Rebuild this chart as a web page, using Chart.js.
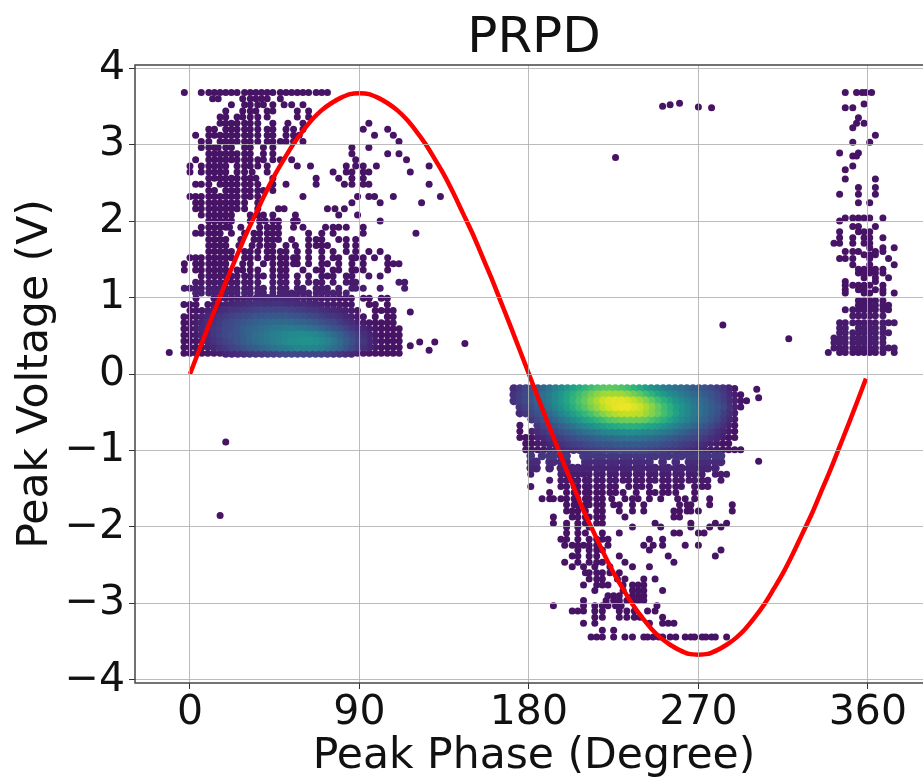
<!DOCTYPE html>
<html>
<head>
<meta charset="utf-8">
<title>PRPD</title>
<script src="https://cdn.jsdelivr.net/npm/chart.js@4"></script>
<style>
  html, body { margin: 0; padding: 0; background: #fff; overflow: hidden; }
  #wrap { width: 923px; height: 782px; overflow: hidden; }
</style>
</head>
<body>
<div id="wrap"><canvas id="prpdChart" width="950" height="782"></canvas></div>
<script>
const xTicks = [0, 90, 180, 270, 360];
const yTicks = [-4, -3, -2, -1, 0, 1, 2, 3, 4];

// reference sine
const sinePhase = [0,5,10,15,20,25,30,35,40,45,50,55,60,65,70,75,80,85,90,95,100,105,110,115,120,125,130,135,140,145,150,155,160,165,170,175,180,185,190,195,200,205,210,215,220,225,230,235,240,245,250,255,260,265,270,275,280,285,290,295,300,305,310,315,320,325,330,335,340,345,350,355,359];
const sineVolt = [0,0.32,0.64,0.95,1.26,1.55,1.84,2.10,2.36,2.60,2.81,3.01,3.18,3.33,3.45,3.54,3.61,3.66,3.67,3.66,3.61,3.54,3.45,3.33,3.18,3.01,2.81,2.60,2.36,2.10,1.84,1.55,1.26,0.95,0.64,0.32,0,-0.32,-0.64,-0.95,-1.26,-1.55,-1.84,-2.10,-2.36,-2.60,-2.81,-3.01,-3.18,-3.33,-3.45,-3.54,-3.61,-3.66,-3.67,-3.66,-3.61,-3.54,-3.45,-3.33,-3.18,-3.01,-2.81,-2.60,-2.36,-2.10,-1.84,-1.55,-1.26,-0.95,-0.64,-0.32,-0.06];

// positive half cycle, dense core. shade = position on viridis x100, 0 = no point
const posPhases = [-3.2,0,3.2,6.3,9.5,12.7,15.9,19,22.2,25.4,28.6,31.7,34.9,38.1,41.3,44.4,47.6,50.8,54,57.1,60.3,63.5,66.7,69.8,73,76.2,79.4,82.5,85.7,88.9,92.1,95.2,98.4,101.6,104.8,107.9,111.1];
const posVolts = [0.99,0.91,0.83,0.75,0.67,0.59,0.51,0.43,0.35,0.27];
const posShades = [
  [0,0,5,0,0,5,6,7,7,8,8,9,9,10,10,10,10,10,10,9,9,8,8,7,7,7,6,6,6,0,5,5,0,5,5,0,0],
  [5,5,6,0,6,7,8,9,10,11,12,13,14,14,14,14,14,13,13,12,12,11,10,9,8,7,7,6,6,0,0,5,5,0,5,0,0],
  [0,5,6,7,9,10,12,13,15,16,17,18,19,20,20,20,20,20,19,18,17,16,15,13,12,11,10,9,8,6,0,0,5,5,5,5,0],
  [5,5,7,9,11,13,15,17,19,20,22,23,25,26,27,27,27,27,26,25,24,22,20,18,16,15,13,11,9,7,6,0,5,0,5,5,0],
  [5,6,8,10,13,15,17,20,22,24,26,28,30,32,33,34,34,34,33,32,31,29,27,24,22,20,17,14,12,9,7,6,5,5,5,5,0],
  [5,6,8,11,13,16,18,21,23,26,29,31,33,35,37,39,40,41,41,40,39,37,35,32,29,26,23,19,16,13,10,8,6,5,5,5,5],
  [5,5,7,10,12,15,18,21,24,26,29,32,35,37,40,42,44,46,47,48,48,47,45,42,38,34,30,25,21,17,13,10,7,5,5,5,5],
  [5,5,6,8,11,14,17,19,22,25,28,31,34,37,39,42,44,47,49,50,51,51,50,47,44,39,34,29,24,19,15,11,8,6,5,5,5],
  [5,5,5,7,9,11,14,16,19,21,24,27,29,32,34,37,39,41,43,45,45,45,44,42,39,35,31,26,21,17,13,10,7,5,5,5,5],
  [5,5,5,5,6,7,8,10,11,12,14,15,16,17,18,19,20,21,22,22,22,22,22,20,19,17,15,13,11,9,7,6,5,5,5,5,5]
];

// negative half cycle, dense core
const negPhases = [172,175.2,178.3,181.5,184.7,187.9,191,194.2,197.4,200.5,203.7,206.9,210,213.2,216.4,219.6,222.7,225.9,229.1,232.2,235.4,238.6,241.7,244.9,248.1,251.3,254.4,257.6,260.8,263.9,267.1,270.3,273.4,276.6,279.8,283,286.1,289.3,292.5,295.6];
const negVolts = [-0.19,-0.27,-0.35,-0.43,-0.51,-0.59,-0.67,-0.75,-0.83,-0.91,-0.99];
const negShades = [
  [12,16,20,24,28,32,37,42,47,52,57,61,65,69,72,74,75,74,72,69,65,61,56,51,47,43,40,37,35,32,29,27,24,21,18,14,10,6,0,0],
  [14,18,22,26,31,36,41,47,52,58,63,68,73,78,82,85,86,86,85,82,78,74,69,64,58,53,48,44,41,37,34,31,28,25,21,17,12,8,5,0],
  [14,18,22,26,31,36,41,47,53,59,65,71,76,82,87,92,95,96,96,94,90,86,81,75,69,63,57,51,47,42,38,35,31,27,23,18,13,9,6,5],
  [0,15,19,23,28,33,38,44,50,56,62,68,73,79,84,89,93,96,97,97,95,92,87,82,76,69,63,56,51,46,41,37,33,29,25,20,14,9,6,0],
  [0,12,16,20,24,28,33,38,44,50,55,61,66,71,76,81,85,88,90,91,90,89,85,81,76,70,64,57,51,46,41,37,33,28,24,18,13,8,0,0],
  [0,0,0,16,20,24,28,32,37,42,47,52,57,61,65,69,73,75,77,78,78,77,75,71,67,63,58,52,47,42,38,34,30,25,21,16,11,7,0,0],
  [0,6,0,0,15,19,23,26,30,34,38,42,46,50,53,56,59,61,62,63,63,62,60,58,55,51,47,43,39,36,32,28,25,21,17,13,9,5,0,0],
  [0,5,0,9,12,15,18,21,24,27,30,33,36,39,41,44,46,47,48,49,49,48,46,45,43,40,37,34,31,28,25,23,20,17,13,10,7,5,0,0],
  [0,5,5,6,9,11,14,16,18,21,23,25,27,29,31,33,34,35,36,37,37,36,35,34,32,30,28,26,24,22,20,18,16,13,11,8,5,5,0,0],
  [0,0,5,5,7,8,10,12,14,16,18,19,21,23,24,25,26,27,28,28,28,28,27,26,25,23,22,20,18,17,15,13,11,9,8,5,5,0,0,0],
  [0,0,5,5,6,6,8,9,10,12,13,14,16,17,18,19,20,20,21,21,21,21,20,19,18,17,16,15,14,12,11,10,9,7,6,5,5,5,5,0]
];

// upper scatter above the positive core
const upperVolts = [3.68,3.6,3.52,3.44,3.36,3.28,3.2,3.12,3.04,2.96,2.88,2.8,2.72,2.64,2.56,2.48,2.4,2.32,2.24,2.16,2.08,2,1.92,1.84,1.76,1.68,1.6,1.52,1.44,1.36,1.28,1.2,1.12,1.06];
const upperShades = [5,5,5,5,5,5,5,5,5,5,5,5,5,5,5,5,5,5,5,5,5,5,5,5,5,5,5,5,5,5,6,7,8,9];
const upperPhases = [
  [-3,6,10,13,16,19,22,25,29,32,35,38,41,44,48,51,54,57,60,63,67,70,73],
  [12,15,28,32,35,38,41,48],
  [22,29,32,36,39,44,50,54,60],
  [19,28,32,35,41,44,57,63],
  [16,19,25,28,32,36,41,57,63],
  [16,19,22,25,29,32,36,44,52,60,95],
  [10,13,19,22,25,29,32,36,41,44,51,55,60,92,105],
  [3,10,13,16,19,22,25,29,32,36,41,44,51,55,58,98,108],
  [6,10,16,19,22,25,29,32,36,41,44,48,51,55,60,111],
  [6,10,13,15,19,22,29,32,39,44,86,95],
  [10,13,16,19,22,25,29,32,39,44,86,105,111],
  [3,10,13,16,19,22,25,29,32,36,39,44,48,54,88,115],
  [0,6,10,13,16,19,25,29,32,36,41,57,64,83,88,92,99,127],
  [0,6,10,13,16,19,25,29,33,41,76,83,86,92,95,117],
  [10,13,16,19,22,25,29,32,35,44,67,79,86,92],
  [3,6,10,16,19,22,25,29,32,36,44,51,67,82,86,92,95,127],
  [10,13,19,22,25,29,32,36,39,44],
  [0,3,6,10,13,16,19,22,25,29,32,36,60,89,95,98,108,133],
  [3,6,10,13,16,19,22,25,29,36,86,101,123],
  [3,6,10,13,16,19,22,25,29,36,47,50,73,77,82],
  [6,10,13,16,19,22,32,36,39,44,56,79,89],
  [10,13,16,19,22,32,37,40,44,47,55,57,101],
  [6,10,13,16,19,21,27,37,41,44,47,55,60,72,76,79,83,92],
  [3,6,10,13,16,22,29,34,37,41,44,47,63,70,76,92,120],
  [10,13,16,19,27,34,37,41,44,47,54,63,67,70,79,83,88],
  [10,13,16,19,26,33,37,41,44,51,56,63,67,70,73,83,88],
  [10,13,16,19,22,29,32,36,41,44,48,51,57,63,70,76,83,88,95,101],
  [0,3,6,10,13,16,19,22,29,32,36,41,44,48,51,55,57,63,70,76,79,86,88,92,98,105],
  [-3,3,6,10,13,16,19,28,32,39,44,48,51,55,57,63,70,73,79,86,92,105,108,111],
  [-3,3,6,10,13,16,19,25,28,32,36,44,48,51,60,67,70,76,79,86,88,92,105],
  [6,10,13,16,19,22,25,29,32,36,39,44,48,51,57,63,70,73,76,83,86,95,101],
  [3,6,10,13,16,19,22,25,29,32,36,44,48,51,57,63,67,70,76,83,86,88,111,114],
  [-3,0,3,6,10,13,16,19,22,25,29,32,36,39,44,48,51,57,60,67,70,73,79,86,88,92,101,114],
  [3,6,10,13,16,19,22,25,29,32,36,39,44,48,51,54,57,60,63,67,70,73,76,79,83]
];

// lower scatter below the negative core
const lowerVolts = [-1.07,-1.15,-1.23,-1.31,-1.39,-1.47,-1.55,-1.63,-1.71,-1.79,-1.87,-1.95,-2,-2.08,-2.16,-2.24,-2.3,-2.38,-2.46,-2.52,-2.6,-2.68,-2.76,-2.83,-2.9,-2.96,-3.03,-3.1,-3.18,-3.26,-3.35,-3.44];
const lowerShades = [16,12,10,8,7,6,5,5,5,5,5,5,5,5,5,5,5,5,5,5,5,5,5,5,5,5,5,5,5,5,5,5];
const lowerPhases = [
  [181,187,191,193,197,200,209,212,216,219,223,226,230,233,237,240,244,247,251,254,258,261,265,268,272,275,279,282],
  [181,184,191,193,197,200,210,212,216,219,223,226,230,233,237,240,244,251,258,265,268,272,275,279,282],
  [181,184,191,197,200,203,206,209,212,216,219,223,226,230,233,237,240,244,247,251,254,258,261,265,268,272,275,279],
  [181,197,200,203,206,209,212,216,219,223,226,230,233,237,240,244,247,251,254,258,261,265,268,272,279,282,285],
  [191,197,200,203,206,210,212,216,219,223,226,230,233,237,240,244,247,251,254,258,261,265,268,272,275,282],
  [181,197,200,204,206,210,212,216,219,223,226,233,237,240,244,251,254,258,261,268,272,275],
  [191,200,204,206,210,212,216,219,223,226,230,237,244,247,251,254,258,268],
  [187,191,193,197,200,204,206,210,212,216,219,224,231,235,238,244,250,259,263,268,276],
  [200,204,206,210,212,216,219,225,228,235,241,260,264,266,276,288],
  [200,203,206,210,216,219,228,235,241,257,260,264,266,270,288],
  [193,203,206,210,212,216,219,231,257,260],
  [193,200,206,210,216,219,247,266,279,285],
  [200,206,212,235,250,266,276,282],
  [200,206,210,219,228,257,260,270,273],
  [197,200,206,212,216,219,222,244,251],
  [199,203,206,209,212,216,222,241,246,251,263,270],
  [206,212,216,219,244,282],
  [203,206,212,216,228,254,279],
  [199,206,212,216,219,231,257],
  [209,215,223,235,244,203],
  [210,212,216,219,223,228],
  [212,216,219,227,231,247,241],
  [209,216,219,222,230,235,238,241],
  [215,230,235,238,241,251],
  [222,225,228,235,238,241],
  [209,221,225,228,232,235,238,241],
  [193,209,215,219,222,226,229,248],
  [203,206,209,215,219,228,232,236,243,247],
  [215,219,228,232,236,239,251],
  [209,215,244,251,254,257],
  [219,225],
  [213,216,219,225,231,235,241,243,246,249,251,255,258,263,266,268,272,274,277,279,285]
];

// cluster around 360 degrees
const rightVolts = [3.68,3.53,3.48,3.35,3.28,3.22,3.12,3.03,2.89,2.85,2.72,2.67,2.55,2.44,2.35,2.24,2.04,2,1.93,1.86,1.78,1.71,1.65,1.6,1.56,1.51,1.43,1.37,1.32,1.26,1.21,1.16,1.1,1.06,0.96,0.9,0.84,0.76,0.67,0.6,0.54,0.47,0.41,0.34,0.28];
const rightShades = [5,5,5,5,5,5,5,5,5,5,5,5,5,5,5,5,5,5,5,5,5,5,5,5,5,5,5,5,5,5,5,5,5,5,6,6,6,7,7,8,8,8,8,7,6];
const rightPhases = [
  [348,354,357,359,362],
  [358],
  [348,352],
  [355],
  [354,358],
  [352],
  [364],
  [352,361],
  [345,355],
  [352,354],
  [352],
  [348],
  [348,364],
  [355,364],
  [345,355,364],
  [355,361],
  [348,352,355,358,361,368],
  [345],
  [352,355,364],
  [345,355,358,361],
  [345,352,358,361,368],
  [342,345,352,358,361],
  [361,368,374],
  [348,352,355,364,368],
  [358,361,364],
  [345,348,352,361,371],
  [352,361,374],
  [355,358,361,364,368],
  [355,358,361,364,368],
  [358,364,371],
  [348,364],
  [348,352,355,358,361,368],
  [348,355,358,364,368],
  [348,358,361,368,374],
  [355,358,361,364,368],
  [355,358,361,364,368,371],
  [348,352,355,358,361,364,368,371],
  [352,355,358,361,364,368],
  [345,348,352,355,358,361,364,368,371,374],
  [345,348,355,358,361,364,368],
  [345,348,352,355,358,361,364,368,371],
  [342,345,348,352,355,358,361,364,368],
  [342,345,348,352,355,358,361,364,368],
  [342,345,348,352,355,358,361,364,368,371,374],
  [339,345,348,352,355,358,361,364,368,374]
];

// lone points
const strayPhase = [-11,117,117,122,130,127,146,19,16,226,251,255,260,270,277,283,318,301,302,302];
const strayVolt = [0.28,0.81,0.37,0.42,0.42,0.31,0.4,-0.89,-1.85,2.83,3.5,3.52,3.54,3.49,3.48,0.64,0.46,-0.2,-0.31,-1.14];

const viridis = ["#440154","#482475","#414487","#355f8d","#2a788e","#21908d","#22a884","#42be71","#7ad151","#bddf26","#fde725"];

function colorViridis(shade) {
  const pos = Math.min(shade, 99.9) / 10;
  const i = Math.floor(pos);
  const t = pos - i;
  const a = parseInt(viridis[i].slice(1), 16);
  const b = parseInt(viridis[i + 1].slice(1), 16);
  const mix = (shift) => Math.round(((a >> shift) & 255) * (1 - t) + ((b >> shift) & 255) * t);
  return "rgb(" + mix(16) + "," + mix(8) + "," + mix(0) + ")";
}

function buildPoints() {
  const points = [];
  const addRows = (volts, rows, shades) => {
    rows.forEach((row, r) => {
      row.forEach((phase) => {
        points.push({ x: phase, y: volts[r], shade: shades[r] });
      });
    });
  };
  const addGrid = (phases, volts, shades) => {
    shades.forEach((row, r) => {
      row.forEach((shade, c) => {
        if (shade > 0) points.push({ x: phases[c], y: volts[r], shade: shade });
      });
    });
  };
  addRows(upperVolts, upperPhases, upperShades);
  addRows(lowerVolts, lowerPhases, lowerShades);
  addRows(rightVolts, rightPhases, rightShades);
  strayPhase.forEach((phase, i) => points.push({ x: phase, y: strayVolt[i], shade: 5 }));
  addGrid(posPhases, posVolts, posShades);
  addGrid(negPhases, negVolts, negShades);
  // brightest drawn last, like a sorted density scatter
  points.sort((a, b) => a.shade - b.shade);
  return points;
}

const framePlugin = {
  id: "frame",
  afterDraw(chart) {
    const { ctx, chartArea } = chart;
    ctx.save();
    ctx.strokeStyle = "#444";
    ctx.lineWidth = 1.5;
    ctx.strokeRect(chartArea.left, chartArea.top, chartArea.right - chartArea.left, chartArea.bottom - chartArea.top);
    ctx.restore();
  },
};

function crearChart() {
  const points = buildPoints();
  const ctx = document.getElementById("prpdChart").getContext("2d");
  const font = "'DejaVu Sans'";

  new Chart(ctx, {
    type: "scatter",
    data: {
      datasets: [
        {
          label: "Sine",
          data: sinePhase.map((phase, i) => ({ x: phase, y: sineVolt[i] })),
          showLine: true,
          borderColor: "#ff0000",
          borderWidth: 4.5,
          pointRadius: 0,
          cubicInterpolationMode: "monotone",
          order: 0,
        },
        {
          label: "PD",
          data: points,
          // core dots a bit larger so the density blobs close up
          pointRadius: points.map((p) => (p.shade >= 10 ? 4.4 : 3.5)),
          pointBorderWidth: 0,
          pointBackgroundColor: points.map((p) => colorViridis(p.shade)),
          order: 1,
        },
      ],
    },
    options: {
      responsive: false,
      animation: false,
      layout: { padding: { right: 17 } },
      plugins: {
        legend: { display: false },
        tooltip: { enabled: false },
        title: {
          display: true,
          text: "PRPD",
          fullSize: false,
          color: "#111",
          font: { family: font, size: 50, weight: "normal", lineHeight: 1 },
          padding: { top: 14.3, bottom: 0.7 },
        },
      },
      scales: {
        x: {
          type: "linear",
          min: -29.2,
          max: 394.6,
          afterBuildTicks(scale) { scale.ticks = xTicks.map((v) => ({ value: v })); },
          afterFit(scale) { scale.height = 99; },
          ticks: { color: "#111", font: { family: font, size: 41 }, maxRotation: 0, padding: 0, autoSkip: false },
          grid: { color: "rgba(176,176,176,0.85)", lineWidth: 1, z: 1, tickLength: 6, tickColor: "#333" },
          border: { display: false },
          title: {
            display: true,
            text: "Peak Phase (Degree)",
            color: "#111",
            font: { family: font, size: 42.5 },
            padding: { top: 0, bottom: 0 },
          },
        },
        y: {
          type: "linear",
          min: -4.04,
          max: 4.04,
          afterBuildTicks(scale) { scale.ticks = yTicks.map((v) => ({ value: v })); },
          afterFit(scale) { scale.width = 135; },
          ticks: {
            color: "#111",
            font: { family: font, size: 41 },
            padding: 4,
            autoSkip: false,
            callback: (v) => String(v).replace("-", "\u2212"),
          },
          grid: { color: "rgba(176,176,176,0.85)", lineWidth: 1, z: 1, tickLength: 6, tickColor: "#333" },
          border: { display: false },
          title: {
            display: true,
            text: "Peak Voltage (V)",
            color: "#111",
            font: { family: font, size: 42.5 },
            padding: { top: 10, bottom: 0 },
          },
        },
      },
    },
    plugins: [framePlugin],
  });
}

document.addEventListener("DOMContentLoaded", crearChart);
</script>
</body>
</html>
